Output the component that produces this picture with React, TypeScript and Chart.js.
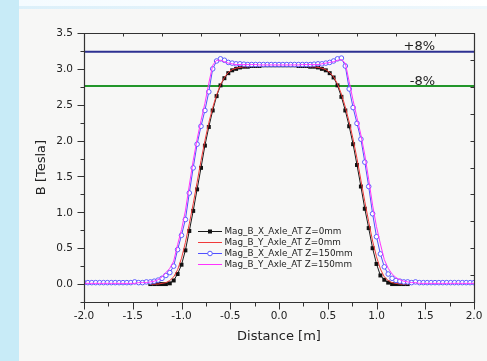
import React, { useEffect, useRef } from "react";
import { Chart, registerables } from "chart.js";

Chart.register(...registerables);

const xPositions = [
  -2.0, -1.96, -1.92, -1.88, -1.84, -1.8, -1.76, -1.72, -1.68, -1.64, -1.6, -1.56, -1.52, -1.48, -1.44, -1.4, -1.36,
  -1.32, -1.28, -1.24, -1.2, -1.16, -1.12, -1.08, -1.04, -1.0, -0.96, -0.92, -0.88, -0.84, -0.8, -0.76, -0.72, -0.68,
  -0.64, -0.6, -0.56, -0.52, -0.48, -0.44, -0.4, -0.36, -0.32, -0.28, -0.24, -0.2, -0.16, -0.12, -0.08, -0.04, 0.0,
  0.04, 0.08, 0.12, 0.16, 0.2, 0.24, 0.28, 0.32, 0.36, 0.4, 0.44, 0.48, 0.52, 0.56, 0.6, 0.64, 0.68, 0.72, 0.76, 0.8,
  0.84, 0.88, 0.92, 0.96, 1.0, 1.04, 1.08, 1.12, 1.16, 1.2, 1.24, 1.28, 1.32, 1.36, 1.4, 1.44, 1.48, 1.52, 1.56, 1.6,
  1.64, 1.68, 1.72, 1.76, 1.8, 1.84, 1.88, 1.92, 1.96, 2.0,
];

const N17 = null;
const magBX_Z0 = [
  N17, N17, N17, N17, N17, N17, N17, N17, N17, N17, N17, N17, N17, N17, N17, N17, N17,
  0.0, 0.0, 0.0, 0.0, 0.0, 0.01, 0.05, 0.14, 0.27, 0.47, 0.74, 1.02, 1.32, 1.62, 1.93, 2.19, 2.42, 2.62, 2.77, 2.87,
  2.94, 2.98, 3.0, 3.02, 3.03, 3.03, 3.04, 3.04, 3.04, 3.05, 3.05, 3.05, 3.05, 3.05,
  3.05, 3.05, 3.05, 3.05, 3.04, 3.04, 3.04, 3.03, 3.03, 3.02, 3.0, 2.98, 2.94, 2.88, 2.77, 2.61, 2.42, 2.2, 1.95, 1.66,
  1.36, 1.05, 0.78, 0.5, 0.28, 0.12, 0.06, 0.02, 0.0, 0.0, 0.0, 0.0, 0.0,
  N17, N17, N17, N17, N17, N17, N17, N17, N17, N17, N17, N17, N17, N17, N17, N17, N17,
];

const magBY_Z0 = [
  N17, N17, N17, N17, N17, N17, N17, N17, N17, N17, N17, N17, N17, N17, N17, N17, N17,
  0.0, 0.0, 0.0, 0.01, 0.02, 0.05, 0.1, 0.2, 0.36, 0.58, 0.84, 1.12, 1.42, 1.72, 2.0, 2.25, 2.46, 2.64, 2.78, 2.88,
  2.95, 2.99, 3.01, 3.02, 3.03, 3.03, 3.04, 3.04, 3.04, 3.04, 3.05, 3.05, 3.05, 3.05,
  3.05, 3.05, 3.05, 3.04, 3.04, 3.04, 3.04, 3.03, 3.03, 3.02, 3.01, 2.99, 2.95, 2.89, 2.79, 2.65, 2.47, 2.26, 2.02, 1.75,
  1.45, 1.15, 0.87, 0.6, 0.38, 0.21, 0.1, 0.05, 0.02, 0.01, 0.0, 0.0, 0.0,
  N17, N17, N17, N17, N17, N17, N17, N17, N17, N17, N17, N17, N17, N17, N17, N17, N17,
];

const magBX_Z150 = [
  0.02, 0.02, 0.02, 0.02, 0.02, 0.02, 0.02, 0.02, 0.02, 0.02, 0.02, 0.02, 0.02, 0.03, 0.02, 0.02, 0.03,
  0.03, 0.04, 0.055, 0.08, 0.12, 0.16, 0.25, 0.48, 0.68, 0.9, 1.27, 1.62, 1.95, 2.2, 2.42, 2.68, 3.0, 3.11, 3.14, 3.12,
  3.09, 3.08, 3.07, 3.07, 3.065, 3.06, 3.06, 3.06, 3.06, 3.06, 3.06, 3.06, 3.06, 3.06,
  3.06, 3.06, 3.06, 3.06, 3.06, 3.06, 3.06, 3.06, 3.065, 3.07, 3.07, 3.08, 3.09, 3.11, 3.14, 3.15, 3.04, 2.72, 2.46, 2.24,
  2.02, 1.7, 1.36, 0.98, 0.66, 0.42, 0.24, 0.14, 0.08, 0.05, 0.04, 0.03, 0.03,
  0.02, 0.03, 0.02, 0.02, 0.02, 0.02, 0.02, 0.02, 0.02, 0.02, 0.02, 0.02, 0.02, 0.02, 0.02, 0.02, 0.02,
];

const magBY_Z150 = [
  0.01, 0.01, 0.01, 0.01, 0.01, 0.01, 0.01, 0.01, 0.01, 0.01, 0.01, 0.01, 0.01, 0.01, 0.02, 0.02, 0.02,
  0.03, 0.04, 0.06, 0.1, 0.16, 0.22, 0.32, 0.55, 0.76, 1.02, 1.38, 1.72, 2.02, 2.28, 2.52, 2.8, 3.05, 3.12, 3.12, 3.1,
  3.08, 3.07, 3.06, 3.06, 3.06, 3.06, 3.06, 3.06, 3.055, 3.055, 3.055, 3.055, 3.055, 3.055,
  3.055, 3.055, 3.055, 3.055, 3.055, 3.06, 3.06, 3.06, 3.06, 3.06, 3.07, 3.08, 3.09, 3.1, 3.12, 3.13, 3.08, 2.82, 2.56, 2.32,
  2.08, 1.8, 1.46, 1.1, 0.8, 0.56, 0.34, 0.22, 0.14, 0.09, 0.06, 0.04, 0.03,
  0.02, 0.02, 0.01, 0.01, 0.01, 0.01, 0.01, 0.01, 0.01, 0.01, 0.01, 0.01, 0.01, 0.01, 0.01, 0.01, 0.01,
];

const seriesNames = [
  "Mag_B_X_Axle_AT Z=0mm",
  "Mag_B_Y_Axle_AT Z=0mm",
  "Mag_B_X_Axle_AT Z=150mm",
  "Mag_B_Y_Axle_AT Z=150mm",
];

const limitX = [-2.0, 2.0];
const upperLimit = [3.24, 3.24];
const lowerLimit = [2.76, 2.76];
const limitLabels = ["+8%", "-8%"];

const xMajorTicks = [-2.0, -1.5, -1.0, -0.5, 0.0, 0.5, 1.0, 1.5, 2.0];
const xMinorTicks = [-1.75, -1.25, -0.75, -0.25, 0.25, 0.75, 1.25, 1.75];
const yMajorTicks = [0.0, 0.5, 1.0, 1.5, 2.0, 2.5, 3.0, 3.5];
const yMinorTicks = [-0.25, 0.25, 0.75, 1.25, 1.75, 2.25, 2.75, 3.25];
const topTicks = [-1.6, -1.2, -0.8, -0.4, 0.0, 0.4, 0.8, 1.2, 1.6];
const rightTicks = [0.125, 0.5, 0.875, 1.25, 1.625, 2.0, 2.375, 2.75, 3.125];

const xTitle = "Distance [m]";
const yTitle = "B [Tesla]";

const FONT = '"DejaVu Sans", "Liberation Sans", Arial, sans-serif';

const pts = (vals: (number | null)[]) => xPositions.map((x, i) => ({ x, y: vals[i] }));

const framePlugin = {
  id: "frameAndText",
  afterDatasetsDraw(chart: any) {
    const { ctx, chartArea: a, scales } = chart;
    const xs = scales.x;
    const ys = scales.y;
    ctx.save();
    // frame
    ctx.strokeStyle = "#333";
    ctx.lineWidth = 1.2;
    ctx.beginPath();
    ctx.rect(Math.round(a.left) + 0.5, Math.round(a.top) + 0.5, Math.round(a.right - a.left), Math.round(a.bottom - a.top));
    ctx.stroke();

    ctx.lineWidth = 1;
    const L = Math.round(a.left) + 0.5;
    const B = Math.round(a.bottom) + 0.5;
    const T = Math.round(a.top) + 0.5;
    const R = Math.round(a.right) + 0.5;
    ctx.beginPath();
    yMajorTicks.forEach((v) => {
      const p = Math.round(ys.getPixelForValue(v)) + 0.5;
      ctx.moveTo(L - 7, p);
      ctx.lineTo(L, p);
    });
    yMinorTicks.forEach((v) => {
      const p = Math.round(ys.getPixelForValue(v)) + 0.5;
      ctx.moveTo(L - 4, p);
      ctx.lineTo(L, p);
    });
    xMajorTicks.forEach((v) => {
      const p = Math.round(xs.getPixelForValue(v)) + 0.5;
      ctx.moveTo(p, B);
      ctx.lineTo(p, B + 7);
    });
    xMinorTicks.forEach((v) => {
      const p = Math.round(xs.getPixelForValue(v)) + 0.5;
      ctx.moveTo(p, B);
      ctx.lineTo(p, B + 4);
    });
    topTicks.forEach((v) => {
      const p = Math.round(xs.getPixelForValue(v)) + 0.5;
      ctx.moveTo(p, T);
      ctx.lineTo(p, T + 3);
    });
    rightTicks.forEach((v) => {
      const p = Math.round(ys.getPixelForValue(v)) + 0.5;
      ctx.moveTo(R, p);
      ctx.lineTo(R - 4, p);
    });
    ctx.stroke();

    // tick labels
    ctx.fillStyle = "#222";
    ctx.font = `10.5px ${FONT}`;
    ctx.textAlign = "right";
    ctx.textBaseline = "middle";
    yMajorTicks.forEach((v) => {
      ctx.fillText(v.toFixed(1), a.left - 11, ys.getPixelForValue(v) + 0.5);
    });
    ctx.textAlign = "center";
    xMajorTicks.forEach((v) => {
      ctx.fillText(v.toFixed(1), xs.getPixelForValue(v), a.bottom + 14);
    });

    // axis titles
    ctx.font = `13px ${FONT}`;
    ctx.fillText(xTitle, (a.left + a.right) / 2, a.bottom + 35);
    ctx.save();
    ctx.translate(a.left - 42, (a.top + a.bottom) / 2);
    ctx.rotate(-Math.PI / 2);
    ctx.fillText(yTitle, 0, 0);
    ctx.restore();

    // limit labels
    ctx.font = `13px ${FONT}`;
    ctx.textAlign = "right";
    ctx.textBaseline = "alphabetic";
    ctx.fillText(limitLabels[0], xs.getPixelForValue(1.6), ys.getPixelForValue(upperLimit[0]) - 1.5);
    ctx.fillText(limitLabels[1], xs.getPixelForValue(1.6), ys.getPixelForValue(lowerLimit[0]) - 1.5);

    // legend
    const ds = chart.data.datasets;
    const lx0 = 198;
    const lx1 = 222;
    const ly0 = 231;
    const step = 11;
    ctx.font = `8.8px ${FONT}`;
    ctx.textAlign = "left";
    ctx.textBaseline = "middle";
    for (let i = 0; i < 4; i++) {
      const d = ds[i];
      const y = ly0 + i * step + 0.5;
      ctx.strokeStyle = d.borderColor;
      ctx.lineWidth = 1;
      ctx.beginPath();
      ctx.moveTo(lx0, y);
      ctx.lineTo(lx1, y);
      ctx.stroke();
      const cx = (lx0 + lx1) / 2;
      if (d.pointStyle === "rect" && d.pointRadius > 0) {
        ctx.fillStyle = d.pointBackgroundColor;
        ctx.fillRect(cx - 2, y - 2, 4, 4);
      } else if (d.pointStyle === "circle" && d.pointRadius > 0) {
        ctx.fillStyle = "#fff";
        ctx.strokeStyle = d.pointBorderColor;
        ctx.beginPath();
        ctx.arc(cx, y, 2.3, 0, Math.PI * 2);
        ctx.fill();
        ctx.stroke();
      }
      ctx.fillStyle = "#222";
      ctx.fillText(seriesNames[i], 224.5, y);
    }
    ctx.restore();
  },
};

export default function App() {
  const ref = useRef<HTMLCanvasElement | null>(null);
  useEffect(() => {
    if (!ref.current) return;
    const chart = new Chart(ref.current, {
      type: "line",
      data: {
        datasets: [
          {
            label: seriesNames[0],
            data: pts(magBX_Z0),
            borderColor: "#1a1a1a",
            borderWidth: 1,
            pointStyle: "rect",
            pointRadius: 2.8,
            pointBackgroundColor: "#111",
            pointBorderColor: "#111",
            pointBorderWidth: 0,
            tension: 0,
            order: 4,
          },
          {
            label: seriesNames[1],
            data: pts(magBY_Z0),
            borderColor: "#f03a3a",
            borderWidth: 1,
            pointRadius: 0,
            tension: 0,
            order: 3,
          },
          {
            label: seriesNames[2],
            data: pts(magBX_Z150),
            borderColor: "#5050ff",
            borderWidth: 1,
            pointStyle: "circle",
            pointRadius: 2.3,
            pointBackgroundColor: "#fff",
            pointBorderColor: "#5a5aff",
            pointBorderWidth: 1,
            tension: 0,
            order: 2,
          },
          {
            label: seriesNames[3],
            data: pts(magBY_Z150),
            borderColor: "#ff33ff",
            borderWidth: 1,
            pointRadius: 0,
            tension: 0,
            order: 1,
          },
          {
            label: limitLabels[0],
            data: limitX.map((x, i) => ({ x, y: upperLimit[i] })),
            borderColor: "#2e3192",
            borderWidth: 2,
            pointRadius: 0,
            order: 5,
          },
          {
            label: limitLabels[1],
            data: limitX.map((x, i) => ({ x, y: lowerLimit[i] })),
            borderColor: "#22962a",
            borderWidth: 2,
            pointRadius: 0,
            order: 5,
          },
        ],
      },
      options: {
        animation: false,
        responsive: false,
        maintainAspectRatio: false,
        devicePixelRatio: 1,
        layout: { padding: { left: 84, top: 33, right: 13, bottom: 59 } },
        plugins: { legend: { display: false }, tooltip: { enabled: false } },
        scales: {
          x: { type: "linear", min: -2, max: 2, display: false },
          y: { type: "linear", min: -0.25, max: 3.5, display: false },
        },
      },
      plugins: [framePlugin],
    });
    return () => chart.destroy();
  }, []);

  return (
    <div style={{ position: "fixed", left: 0, top: 0, width: 487, height: 361, background: "#f7f7f6", overflow: "hidden" }}>
      <div style={{ position: "absolute", left: 0, top: 0, width: 19, height: 361, background: "#c8ebf7" }} />
      <div style={{ position: "absolute", left: 19, top: 0, width: 468, height: 6, background: "linear-gradient(to right, #f4fbff, #ffffff)" }} />
      <div style={{ position: "absolute", left: 19, top: 6, width: 468, height: 3, background: "linear-gradient(to right, #dcf0fa, #eef7fc)" }} />
      <canvas ref={ref} width={487} height={361} style={{ position: "absolute", left: 0, top: 0, width: 487, height: 361 }} />
    </div>
  );
}
